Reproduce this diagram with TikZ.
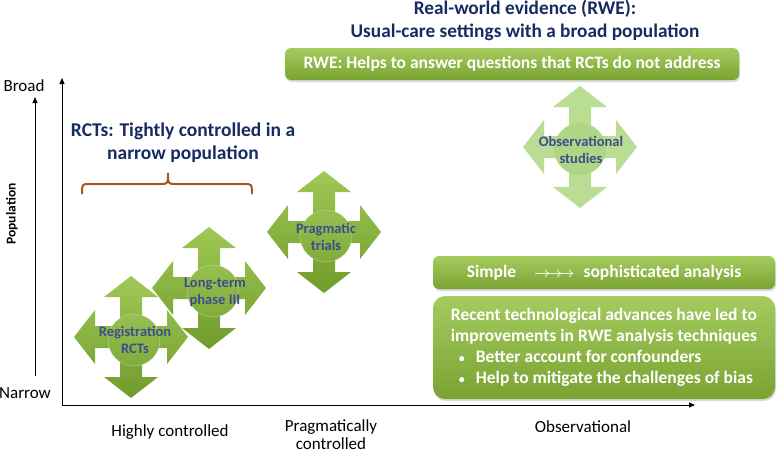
\documentclass[tikz,border=0pt]{standalone}
\usepackage{fontspec}
\setmainfont{Carlito}
\usetikzlibrary{arrows.meta,shadows}

\definecolor{titlenavy}{RGB}{24,42,98}
\definecolor{labelslate}{RGB}{62,76,142}
\definecolor{boxlight}{RGB}{165,203,95}
\definecolor{boxdark}{RGB}{122,163,50}
\definecolor{crosslight}{RGB}{160,200,86}
\definecolor{crossdark}{RGB}{112,156,44}
\definecolor{balllight}{RGB}{150,192,80}
\definecolor{balldark}{RGB}{128,172,60}
\definecolor{obsgreen}{RGB}{185,221,147}
\definecolor{obsball}{RGB}{174,214,132}
\definecolor{bracebrown}{RGB}{166,88,32}

\tikzset{
  greenbox/.style={top color=boxlight, bottom color=boxdark, rounded corners=6pt,
    text=white, font=\bfseries\fontsize{17.5}{21}\selectfont, inner sep=0pt,
    drop shadow={shadow xshift=1pt, shadow yshift=-2pt, opacity=0.3}},
  crossfill/.style={top color=crosslight, bottom color=crossdark},
  obsfill/.style={fill=obsgreen},
  crosstext/.style={text=labelslate, align=center, inner sep=0pt,
    font=\bfseries\fontsize{14.5}{17}\selectfont},
  axislabel/.style={font=\fontsize{17}{18.5}\selectfont, align=center},
  navytitle/.style={text=titlenavy, align=center, font=\bfseries\fontsize{19.3}{23}\selectfont},
  crossarrow/.pic={
    \path[pic actions] (0,-61) -- (27,-40) -- (11,-40) -- (11,-11) -- (36,-11) -- (36,-27)
      -- (57,0) -- (36,27) -- (36,11) -- (11,11) -- (11,40) -- (27,40) -- (0,61)
      -- (-27,40) -- (-11,40) -- (-11,11) -- (-36,11) -- (-36,27) -- (-57,0)
      -- (-36,-27) -- (-36,-11) -- (-11,-11) -- (-11,-40) -- (-27,-40) -- cycle;
  }
}

\begin{document}
\begin{tikzpicture}[x=1pt, y=-1pt]
    \useasboundingbox (0,0) rectangle (779,453);

    % axes
    \coordinate (origin) at (62,405);
    \coordinate (ytop) at (62,78);
    \coordinate (xend) at (695,405);
    \coordinate (popbot) at (35,376);
    \coordinate (poptop) at (35,97);
    \draw[line width=0.9pt, -{Triangle[length=6pt,width=5pt]}] (origin) -- (ytop);
    \draw[line width=0.9pt, -{Triangle[length=6pt,width=5pt]}] (origin) -- (xend);
    \draw[line width=0.9pt, -{Triangle[length=6pt,width=5pt]}] (popbot) -- (poptop);

    \node[rotate=90, font=\bfseries\fontsize{13.5}{15}\selectfont] (poplbl) at (12,214) {Population};
    \node[axislabel] (broadlbl) at (24,86) {Broad};
    \node[axislabel] (narrowlbl) at (25,393) {Narrow};
    \node[axislabel] (highlbl) at (170,432) {Highly controlled};
    \node[axislabel] (praglbl) at (331,434.5) {Pragmatically\\controlled};
    \node[axislabel] (obslbl) at (583,427) {Observational};

    % titles
    \node[navytitle] (rwetitle) at (525,20) {Real-world evidence (RWE):\\Usual-care settings with a broad population};
    \node[navytitle, font=\bfseries\fontsize{19.5}{23}\selectfont] (rcttitle) at (183,143) {RCTs: Tightly controlled in a\\narrow population};

    % brace
    \draw[bracebrown, line width=2pt] (82,194) .. controls (82,184) .. (90,184) -- (160,184)
      .. controls (168,184) .. (168,173) .. controls (168,184) .. (176,184) -- (244,184)
      .. controls (252,184) .. (252,194);

    % boxes
    \node[greenbox, minimum width=454pt, minimum height=32pt] (rwebox) at (512,64)
      {RWE: Helps to answer questions that RCTs do not address};
    \node[greenbox, minimum width=342pt, minimum height=33pt] (simplebox) at (604,272.5)
      {Simple\hspace{18pt}{\fontsize{14}{16}\selectfont\boldmath$\rightarrow\mkern-5mu\rightarrow\mkern-5mu\rightarrow$}\hspace{9pt}sophisticated analysis};
    \node[greenbox, minimum width=342pt, minimum height=103pt, rounded corners=12pt, align=left] (recentbox) at (604,347.5)
      {Recent technological advances have led to\\improvements in RWE analysis techniques\\
       \hspace*{8pt}{\fontsize{12}{12}\selectfont\textbullet}\hspace{11pt}Better account for confounders\\
       \hspace*{8pt}{\fontsize{12}{12}\selectfont\textbullet}\hspace{11pt}Help to mitigate the challenges of bias};

    % study designs
    \pic[obsfill] at (580,147) {crossarrow};
    \fill[obsball] (580,149) circle (26);
    \node[crosstext] (obsstudy) at (581,150) {Observational\\studies};

    \pic[crossfill] at (324,232) {crossarrow};
    \shade[top color=balllight, bottom color=balldark, draw=white, draw opacity=0.4] (326,236) circle (26);
    \node[crosstext] (pragtrial) at (326,237) {Pragmatic\\trials};

    \pic[crossfill] at (209,288) {crossarrow};
    \shade[top color=balllight, bottom color=balldark, draw=white, draw opacity=0.4] (213,291) circle (26);
    \node[crosstext] (longterm) at (215,292) {Long-term\\phase III};

    \pic[crossfill] at (131,337) {crossarrow};
    \shade[top color=balllight, bottom color=balldark, draw=white, draw opacity=0.4] (134,340) circle (26);
    \node[crosstext] (regrct) at (135,340) {Registration\\RCTs};
\end{tikzpicture}
\end{document}
